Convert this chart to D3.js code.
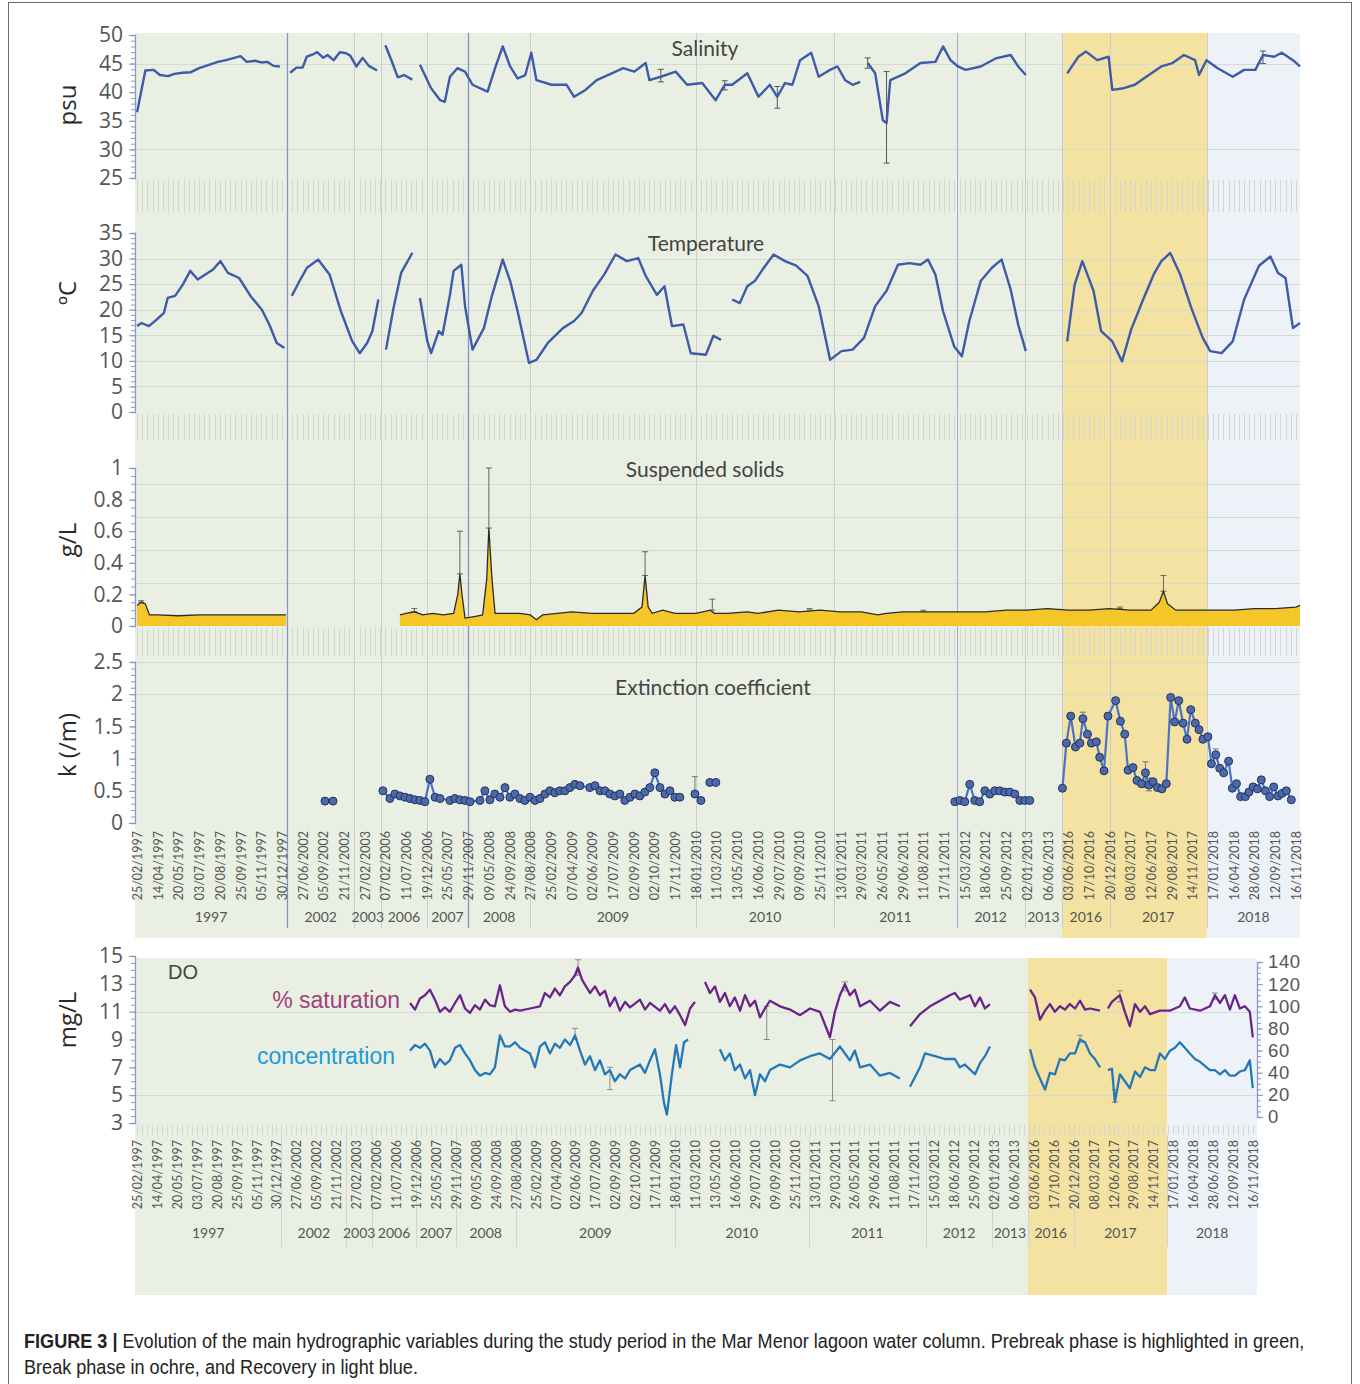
<!DOCTYPE html>
<html>
<head>
<meta charset="utf-8">
<script src="https://cdn.jsdelivr.net/npm/d3@7"></script>
<style>
  body { margin: 0; background: #fff; }
  svg { display: block; }
</style>
</head>
<body>
<svg id="fig" width="1360" height="1384"></svg>
<script>
// ---- Data ---------------------------------------------------------------
// Category axis: every labelled sampling date sits at an integer position.
// Series values are stored as [position, value]; null breaks the line.
var dateLabels = ["25/02/1997","14/04/1997","20/05/1997","03/07/1997","20/08/1997","25/09/1997","05/11/1997","30/12/1997",
  "27/06/2002","05/09/2002","21/11/2002","27/02/2003","07/02/2006","11/07/2006","19/12/2006","25/05/2007","29/11/2007",
  "09/05/2008","24/09/2008","27/08/2008","25/02/2009","07/04/2009","02/06/2009","17/07/2009","02/09/2009","02/10/2009",
  "17/11/2009","18/01/2010","11/03/2010","13/05/2010","16/06/2010","29/07/2010","09/09/2010","25/11/2010","13/01/2011",
  "29/03/2011","26/05/2011","29/06/2011","11/08/2011","17/11/2011","15/03/2012","18/06/2012","25/09/2012","02/01/2013",
  "06/06/2013","03/06/2016","17/10/2016","20/12/2016","08/03/2017","12/06/2017","29/08/2017","14/11/2017","17/01/2018",
  "16/04/2018","28/06/2018","12/09/2018","16/11/2018"];

var years = ["1997","2002","2003","2006","2007","2008","2009","2010","2011","2012","2013","2016","2017","2018"];
var yearBounds = [-0.1, 7.25, 10.5, 11.8, 14.0, 16.0, 19.0, 27.0, 33.7, 39.6, 42.9, 44.7, 47.0, 51.7, 56.2];

var phases = ["Prebreak", "Break", "Recovery"];
var phaseBounds = [-0.1, 44.7, 51.7, 56.2];

var salinity = [[0,36.5],[0.4,43.8],[0.8,43.9],[1.1,43],[1.5,42.8],[1.8,43.2],[2.2,43.4],[2.6,43.5],[3.0,44.2],[3.4,44.7],
  [3.9,45.3],[4.3,45.6],[4.7,46],[5.0,46.3],[5.3,45.3],[5.7,45.5],[6.0,45.2],[6.3,45.3],[6.6,44.6],[6.9,44.5],[7.15,null],
  [7.4,43.4],[7.7,44.3],[8.0,44.3],[8.2,46.2],[8.5,46.6],[8.7,47],[9.0,46],[9.2,46.5],[9.5,45.6],[9.8,47],[10.1,46.8],
  [10.3,46.4],[10.6,44.5],[10.9,46],[11.2,44.6],[11.6,43.8],[11.8,null],
  [12.0,48.2],[12.3,45.5],[12.6,42.6],[12.9,43],[13.3,42.2],[13.5,null],
  [13.67,44.8],[14.21,40.7],[14.65,38.6],[14.87,38.3],[15.12,42.7],[15.48,44.2],[15.85,43.6],[16.21,41.3],[16.94,40.1],
  [17.3,44.2],[17.67,48],[18.03,44.5],[18.39,42.4],[18.76,43],[19.05,46.9],[19.3,42.1],[20.03,41.3],[20.76,41.3],[21.12,39.2],
  [21.67,40.4],[22.21,42.1],[22.94,43.3],[23.49,44.2],[24.03,43.6],[24.58,45.1],[24.76,42.1],[25.31,42.7],[26.03,43.6],
  [26.58,41.3],[27.31,41.6],[27.96,38.6],[28.4,41.3],[28.76,41.3],[29.49,43.3],[30.03,39.2],[30.58,41.3],[30.94,39.2],
  [31.31,41.6],[31.67,41.3],[32.04,45.6],[32.58,46.9],[32.94,42.7],[33.49,43.9],[33.85,44.5],[34.22,42.1],[34.58,41.3],
  [34.95,41.8],[35.1,null],
  [35.31,45.1],[35.67,43.3],[36.04,35.1],[36.22,34.6],[36.4,42.1],[37.13,43.3],[37.86,45.1],[38.58,45.3],[38.95,48],
  [39.31,45.6],[39.67,44.5],[40.04,43.9],[40.77,44.5],[41.49,45.9],[42.22,46.5],[42.58,44.5],[42.95,43],[43.5,null],
  [44.95,43.3],[45.49,46.2],[45.86,47.1],[46.4,45.6],[46.95,46.2],[47.13,40.4],[47.68,40.7],[48.22,41.3],[48.77,42.7],
  [49.5,44.5],[50.04,45.1],[50.59,46.5],[51.13,45.6],[51.32,43],[51.68,45.6],[52.22,44.2],[52.95,42.7],[53.5,43.9],
  [54.04,43.9],[54.41,46.5],[54.95,46.2],[55.32,46.9],[55.86,45.6],[56.2,44.5]];
// [position, low, high]
var salinityErr = [[36.22,27.6,43.6],[30.94,37.2,41.0],[35.31,44.2,46.0],[25.31,41.8,44.0],[28.4,40.4,42.0],[54.41,45.0,47.2]];

var temperature = [[0,16.8],[0.21,17.4],[0.57,16.8],[0.93,18],[1.3,19.4],[1.48,22.3],[1.84,22.7],[2.21,24.9],[2.57,27.6],
  [2.93,25.9],[3.3,26.9],[3.66,27.8],[4.03,29.5],[4.39,27.2],[4.93,26.2],[5.48,22.7],[6.03,20],[6.39,17.1],[6.75,13.5],
  [7.12,12.5],[7.3,null],
  [7.48,22.7],[7.85,25.6],[8.21,28.2],[8.75,29.8],[9.3,26.9],[9.85,19.7],[10.39,13.9],[10.76,11.5],[11.12,13.5],[11.37,15.8],
  [11.66,22],[11.85,null],
  [12.03,12.2],[12.39,20.3],[12.76,27.2],[13.3,31.1],[13.5,null],
  [13.67,22.3],[14.03,13.8],[14.21,11.5],[14.58,15.8],[14.76,15.1],[15.12,22.9],[15.3,27.6],[15.67,28.8],[15.85,20.7],
  [16.21,12.2],[16.76,16.4],[17.12,22.3],[17.67,29.8],[18.03,25.6],[18.39,19.7],[18.94,9.6],[19.3,10.2],[19.85,13.5],
  [20.58,16.4],[21.12,17.8],[21.49,19.4],[22.03,23.7],[22.58,26.9],[23.12,30.8],[23.67,29.5],[24.22,30.1],[24.58,26.6],
  [25.12,22.9],[25.49,24.6],[25.85,16.8],[26.4,17.1],[26.76,11.5],[27.49,11.2],[27.85,14.9],[28.22,14.1],[28.5,null],
  [28.76,22],[29.13,21.3],[29.49,24.6],[29.85,25.6],[30.22,27.8],[30.76,30.8],[31.31,29.5],[31.85,28.6],[32.4,26.6],
  [32.94,20.7],[33.49,10.2],[34.04,11.9],[34.58,12.2],[35.13,14.5],[35.67,20.7],[36.22,23.7],[36.77,28.8],[37.31,29.1],
  [37.86,28.8],[38.22,29.8],[38.58,26.9],[38.95,19.7],[39.49,12.8],[39.86,10.9],[40.22,17.8],[40.77,25.6],[41.31,28.2],
  [41.78,29.8],[42.22,23.9],[42.58,17.1],[42.95,11.9],[43.2,null],
  [44.95,13.8],[45.31,24.9],[45.68,29.5],[46.22,23.7],[46.59,15.8],[47.13,13.8],[47.6,9.9],[48.04,16.1],[48.59,21.7],
  [49.13,26.9],[49.5,29.5],[49.93,31.1],[50.41,26.9],[50.95,20.3],[51.5,14.5],[51.86,11.9],[52.41,11.5],[52.95,13.8],
  [53.5,22],[54.22,28.6],[54.77,30.4],[55.14,27.2],[55.5,26.2],[55.86,16.4],[56.2,17.4]];

var solids = [[0,0.13],[0.2,0.15],[0.4,0.14],[0.6,0.07],[1,0.07],[2,0.065],[3,0.07],[4,0.07],[5,0.07],[6,0.07],[7.2,0.07],[7.25,null],
  [12.7,0.07],[13,0.08],[13.4,0.09],[13.8,0.07],[14.3,0.08],[14.8,0.07],[15.3,0.08],[15.5,0.2],[15.6,0.33],[15.7,0.2],
  [15.85,0.05],[16.3,0.06],[16.7,0.07],[16.9,0.3],[17.0,0.62],[17.15,0.3],[17.3,0.08],[17.8,0.08],[18.5,0.08],[19,0.07],
  [19.3,0.04],[19.6,0.07],[20.3,0.08],[21,0.09],[22,0.08],[23,0.08],[24,0.08],[24.4,0.12],[24.55,0.32],[24.7,0.12],
  [24.9,0.08],[25.4,0.1],[26,0.08],[27,0.08],[27.7,0.1],[27.9,0.08],[28.5,0.08],[29.5,0.09],[30,0.08],[31,0.1],[32,0.09],
  [33,0.1],[34,0.09],[35,0.09],[35.8,0.07],[36.2,0.08],[37,0.09],[38,0.09],[39,0.09],[40,0.09],[41,0.09],[42,0.1],
  [43,0.1],[44,0.11],[45,0.1],[46,0.1],[47,0.11],[48,0.1],[49,0.1],[49.4,0.15],[49.6,0.22],[49.8,0.14],[50.2,0.1],
  [51,0.1],[52,0.1],[53,0.1],[54,0.11],[55,0.11],[56,0.12],[56.2,0.13]];
var solidsErr = [[15.6,0.33,0.6],[17.0,0.62,1.0],[24.55,0.32,0.47],[27.8,0.1,0.17],[49.6,0.22,0.32],[0.2,0.15,0.16],
  [13.4,0.09,0.11],[32.5,0.1,0.11],[38,0.09,0.1],[47.5,0.11,0.12]];

var extinction = [[9.08,0.34],[9.47,0.34],[9.6,null],
  [11.88,0.5],[12.22,0.38],[12.46,0.45],[12.71,0.42],[12.95,0.4],[13.19,0.38],[13.43,0.36],[13.67,0.35],[13.91,0.33],
  [14.15,0.68],[14.4,0.4],[14.64,0.38],[15.12,0.35],[15.36,0.38],[15.6,0.36],[15.85,0.35],[16.09,0.33],[16.57,0.35],
  [16.81,0.5],[17.05,0.36],[17.29,0.45],[17.54,0.4],[17.78,0.55],[18.02,0.4],[18.26,0.45],[18.5,0.38],[18.74,0.35],
  [18.99,0.4],[19.23,0.35],[19.47,0.38],[19.71,0.45],[19.95,0.5],[20.19,0.47],[20.43,0.5],[20.68,0.5],[20.92,0.55],
  [21.16,0.6],[21.4,0.58],[21.88,0.55],[22.13,0.58],[22.37,0.5],[22.61,0.5],[22.85,0.45],[23.09,0.42],[23.33,0.45],
  [23.57,0.35],[23.82,0.4],[24.06,0.45],[24.3,0.42],[24.54,0.48],[24.78,0.55],[25.02,0.78],[25.27,0.55],[25.51,0.45],
  [25.75,0.5],[25.99,0.4],[26.23,0.4],[26.5,null],[26.96,0.45],[27.25,0.35],[27.4,null],[27.68,0.63],[27.97,0.63],[28.1,null],
  [39.52,0.33],[39.76,0.35],[40,0.33],[40.24,0.6],[40.48,0.35],[40.72,0.33],[40.97,0.5],[41.21,0.45],[41.45,0.5],
  [41.69,0.5],[41.93,0.48],[42.17,0.48],[42.42,0.45],[42.66,0.35],[42.9,0.35],[43.14,0.35],[43.3,null],
  [44.72,0.54],[44.91,1.24],[45.12,1.66],[45.35,1.18],[45.56,1.24],[45.71,1.62],[45.93,1.38],[46.12,1.24],[46.36,1.26],
  [46.52,1.02],[46.73,0.81],[46.92,1.66],[47.29,1.9],[47.52,1.58],[47.73,1.38],[47.89,0.82],[48.13,0.86],[48.32,0.66],
  [48.54,0.61],[48.73,0.78],[48.9,0.59],[49.1,0.64],[49.31,0.55],[49.53,0.53],[49.74,0.61],[49.95,1.95],[50.14,1.57],
  [50.34,1.9],[50.55,1.55],[50.74,1.3],[50.92,1.76],[51.14,1.55],[51.32,1.45],[51.51,1.3],[51.75,1.34],[51.92,0.92],
  [52.13,1.06],[52.32,0.85],[52.51,0.78],[52.75,0.96],[52.93,0.54],[53.13,0.61],[53.33,0.41],[53.56,0.41],[53.73,0.48],
  [53.93,0.56],[54.14,0.53],[54.33,0.67],[54.53,0.5],[54.73,0.41],[54.93,0.56],[55.14,0.42],[55.33,0.46],[55.54,0.5],
  [55.78,0.36]];
var extinctionErr = [[26.96,0.45,0.72],[45.71,1.62,1.72],[48.73,0.55,0.95],[48.9,0.5,0.7],[52.13,1.0,1.15]];

// DO: % saturation (right axis) and concentration in mg/L (left axis)
var doSaturation = [[13.7,103],[13.95,97],[14.2,107],[14.45,110],[14.7,115],[14.95,106],[15.2,95],[15.45,99],[15.7,95],
  [15.96,103],[16.21,110],[16.46,98],[16.71,94],[16.96,101],[17.21,97],[17.46,106],[17.71,101],[17.96,100],[18.21,119],
  [18.46,100],[18.72,95],[18.97,97],[19.22,96],[19.72,98],[20.22,100],[20.47,112],[20.72,108],[20.97,116],[21.22,110],
  [21.47,118],[21.73,122],[21.98,128],[22.13,135],[22.33,124],[22.73,112],[22.98,118],[23.23,110],[23.48,114],[23.73,100],
  [23.98,108],[24.23,96],[24.49,104],[24.74,99],[25.24,106],[25.49,97],[25.74,103],[26.24,96],[26.49,102],[26.74,94],
  [26.99,100],[27.25,92],[27.5,83],[27.75,98],[28.0,104],[28.25,null],
  [28.5,122],[28.75,112],[29.0,118],[29.25,104],[29.5,112],[29.75,100],[30.0,108],[30.26,96],[30.51,110],[30.76,100],
  [31.01,105],[31.26,90],[31.51,98],[31.76,105],[32.26,100],[32.77,97],[33.27,92],[33.77,98],[34.27,95],[34.77,72],
  [35.02,95],[35.27,110],[35.52,120],[35.77,110],[36.02,115],[36.28,100],[36.78,105],[37.28,96],[37.78,104],[38.28,100],
  [38.5,null],
  [38.79,82],[39.29,93],[39.79,100],[40.29,105],[40.79,110],[41.04,112],[41.29,106],[41.8,110],[42.05,100],[42.3,108],
  [42.55,98],[42.8,102],[43.2,null],
  [44.81,115],[45.06,108],[45.31,88],[45.56,96],[45.81,102],[46.06,95],[46.31,100],[46.56,97],[46.81,102],[47.07,98],
  [47.32,105],[47.57,97],[47.82,98],[48.32,96],[48.5,null],
  [48.72,98],[48.92,104],[49.32,110],[49.57,95],[49.82,82],[50.08,102],[50.33,95],[50.58,100],[50.83,93],[51.33,96],
  [51.83,96],[52.33,100],[52.58,108],[52.83,98],[53.34,96],[53.84,100],[54.09,110],[54.34,103],[54.59,110],[54.84,97],
  [55.09,110],[55.34,98],[55.59,100],[55.84,95],[55.99,72]];
var doSaturationErr = [[22.13,128,142],[31.6,70,100],[35.52,114,122],[49.32,104,114],[54.09,106,112]];

var doConcentration = [[13.7,8.2],[13.95,8.6],[14.2,8.4],[14.45,8.7],[14.7,8.2],[14.95,7.0],[15.2,7.6],[15.45,7.2],[15.7,7.5],
  [15.96,8.4],[16.21,8.6],[16.46,8.0],[16.71,7.5],[16.96,6.8],[17.21,6.4],[17.46,6.6],[17.71,6.5],[17.96,7.0],[18.21,9.3],
  [18.46,8.5],[18.72,8.5],[18.97,8.8],[19.22,8.4],[19.72,8.0],[19.97,7.0],[20.22,8.5],[20.47,8.8],[20.72,8.0],[20.97,8.7],
  [21.22,8.4],[21.47,9.0],[21.73,8.6],[21.98,9.3],[22.23,8.2],[22.48,7.2],[22.73,7.8],[22.98,6.8],[23.23,7.5],[23.48,6.5],
  [23.73,6.8],[23.98,6.0],[24.23,6.5],[24.49,6.2],[24.74,6.8],[25.24,7.2],[25.49,6.6],[25.74,7.5],[25.99,8.3],[26.24,6.5],
  [26.44,4.5],[26.59,3.6],[26.84,6.5],[27.05,8.6],[27.25,7.0],[27.45,8.8],[27.65,9.0],[28.0,null],
  [29.25,8.3],[29.5,7.5],[29.75,8.0],[30.0,6.8],[30.26,7.2],[30.51,6.2],[30.76,6.8],[31.01,5.0],[31.26,6.5],[31.51,6.0],
  [31.76,6.8],[32.26,7.2],[32.77,7.0],[33.27,7.5],[33.77,7.8],[34.27,8.0],[34.77,7.6],[35.27,8.5],[35.77,7.5],[36.02,8.2],
  [36.28,7.0],[36.78,7.2],[37.28,6.4],[37.78,6.6],[38.28,6.2],[38.5,null],
  [38.79,5.6],[39.29,7.0],[39.54,8.0],[40.04,7.8],[40.54,7.6],[41.04,7.6],[41.29,7.0],[41.54,7.2],[42.05,6.5],[42.3,7.3],
  [42.55,7.8],[42.8,8.5],[43.2,null],
  [44.81,8.3],[45.06,7.0],[45.31,6.2],[45.56,5.4],[45.81,6.6],[46.06,6.5],[46.31,7.6],[46.56,7.5],[46.81,8.0],[47.07,8.0],
  [47.32,9.0],[47.57,8.8],[47.82,8.0],[48.07,7.6],[48.32,7.0],[48.5,null],
  [48.72,6.8],[48.92,6.9],[49.07,4.5],[49.32,6.5],[49.57,6.0],[49.82,5.5],[50.08,6.7],[50.33,6.3],[50.58,7.0],[50.83,6.8],
  [51.08,6.8],[51.33,8.0],[51.58,7.6],[51.83,8.2],[52.08,8.4],[52.33,8.8],[52.58,8.4],[52.83,8.0],[53.09,7.6],[53.34,7.4],
  [53.84,6.8],[54.09,6.8],[54.34,6.5],[54.59,6.8],[54.84,6.4],[55.09,6.4],[55.34,6.7],[55.59,6.8],[55.84,7.5],[55.99,5.5]];
var doConcentrationErr = [[23.73,5.4,7.0],[34.9,4.6,9.0],[21.98,9.0,9.8],[47.32,8.8,9.3],[49.07,4.5,5.4]];

// ---- Drawing ------------------------------------------------------------
var svg = d3.select("#fig");
var phaseFill = { Prebreak: "#e9f0e3", Break: "#f3e2a2", Recovery: "#edf2f8" };
var tickFont = "'Open Sans', 'DejaVu Sans', sans-serif";
var calibriLike = "Lato, 'Open Sans', sans-serif";
var sans = "'Liberation Sans', Arial, sans-serif";

// position scales for the two blocks of panels
var x = d3.scaleLinear().domain([-0.1, 56.2]).range([135, 1300]);
var xDo = d3.scaleLinear().domain([-0.1, 56.2]).range([135, 1257]);

// outer frame of the figure
svg.append("rect").attr("x", 8.5).attr("y", 2.5).attr("width", 1343).attr("height", 1400)
  .attr("fill", "none").attr("stroke", "#6b6b6b").attr("stroke-width", 1);

function phaseBands(g, xs, y0, y1) {
  g.selectAll(null).data(phases).enter().append("rect")
    .attr("x", function(p, i) { return xs(phaseBounds[i]); })
    .attr("width", function(p, i) { return xs(phaseBounds[i + 1]) - xs(phaseBounds[i]); })
    .attr("y", y0).attr("height", y1 - y0)
    .attr("fill", function(p) { return phaseFill[p]; });
}

var upper = svg.append("g");
var lower = svg.append("g");
phaseBands(upper, x, 33, 938);
phaseBands(lower, xDo, 958, 1295);

// the dense category tick marks below each panel
function tickBand(g, xs, y0, y1) {
  g.append("g").selectAll("line").data(d3.range(0, 56.01, 0.25)).enter().append("line")
    .attr("x1", function(d) { return Math.round(xs(d)) + 0.5; })
    .attr("x2", function(d) { return Math.round(xs(d)) + 0.5; })
    .attr("y1", y0).attr("y2", y1)
    .attr("stroke", "#d2d7cf").attr("stroke-width", 1);
}
tickBand(upper, x, 180, 212);
tickBand(upper, x, 414, 440);
tickBand(upper, x, 628, 656);
tickBand(lower, xDo, 1125, 1135);

function hGrid(g, y, values, x0, x1) {
  g.append("g").selectAll("line").data(values).enter().append("line")
    .attr("x1", x0).attr("x2", x1)
    .attr("y1", function(d) { return Math.round(y(d)) + 0.5; })
    .attr("y2", function(d) { return Math.round(y(d)) + 0.5; })
    .attr("stroke", "#d5dad2").attr("stroke-width", 1);
}

// panel scales
var ySal = d3.scaleLinear().domain([25, 50]).range([178, 35]);
var yTmp = d3.scaleLinear().domain([0, 35]).range([412, 233]);
var ySS = d3.scaleLinear().domain([0, 1]).range([626, 468]);
var yExt = d3.scaleLinear().domain([0, 2.5]).range([823, 662]);
var yDoL = d3.scaleLinear().domain([3, 15]).range([1123, 956]);
var yDoR = d3.scaleLinear().domain([0, 140]).range([1117, 962]);

hGrid(upper, ySal, [30, 45], 135, 1300);
hGrid(upper, yTmp, [5, 10, 15, 20, 25, 30], 135, 1300);
hGrid(upper, ySS, [0.27, 0.48, 0.69, 0.9], 135, 1300);
hGrid(upper, yExt, [2, 2.5], 135, 1300);
hGrid(lower, yDoL, [5, 11], 135, 1257);

// vertical separators between years (plot area + label area)
var inner = yearBounds.slice(1, -1);
upper.append("g").selectAll("line").data(inner).enter().append("line")
  .attr("x1", function(d) { return Math.round(x(d)) + 0.5; })
  .attr("x2", function(d) { return Math.round(x(d)) + 0.5; })
  .attr("y1", 33).attr("y2", 928)
  .attr("stroke", function(d) { return (d === 7.25 || d === 16.0) ? "#8593c4" : (d === 39.6 ? "#a3aecf" : "#c9cdd0"); })
  .attr("stroke-width", function(d) { return (d === 7.25 || d === 16.0) ? 1.3 : 1; });
lower.append("g").selectAll("line").data(inner).enter().append("line")
  .attr("x1", function(d) { return Math.round(xDo(d)) + 0.5; })
  .attr("x2", function(d) { return Math.round(xDo(d)) + 0.5; })
  .attr("y1", 1135).attr("y2", 1247)
  .attr("stroke", "#d0d4d6").attr("stroke-width", 1);

// ---- series ----
function lineOf(xs, y) {
  return d3.line()
    .defined(function(d) { return d[1] !== null; })
    .x(function(d) { return xs(d[0]); })
    .y(function(d) { return y(d[1]); });
}

function errorBars(g, xs, y, rows, color) {
  var eg = g.append("g").attr("stroke", color).attr("stroke-width", 1);
  rows.forEach(function(r) {
    var cx = xs(r[0]);
    eg.append("line").attr("x1", cx).attr("x2", cx).attr("y1", y(r[1])).attr("y2", y(r[2]));
    eg.append("line").attr("x1", cx - 3).attr("x2", cx + 3).attr("y1", y(r[2])).attr("y2", y(r[2]));
    eg.append("line").attr("x1", cx - 3).attr("x2", cx + 3).attr("y1", y(r[1])).attr("y2", y(r[1]));
  });
}

var blueLine = "#3d5ba8";

errorBars(upper, x, ySal, salinityErr, "#555");
upper.append("path").datum(salinity).attr("d", lineOf(x, ySal))
  .attr("fill", "none").attr("stroke", blueLine).attr("stroke-width", 2.4).attr("stroke-linejoin", "round");

upper.append("path").datum(temperature).attr("d", lineOf(x, yTmp))
  .attr("fill", "none").attr("stroke", blueLine).attr("stroke-width", 2.4).attr("stroke-linejoin", "round");

var ssArea = d3.area()
  .defined(function(d) { return d[1] !== null; })
  .x(function(d) { return x(d[0]); })
  .y0(ySS(0))
  .y1(function(d) { return ySS(d[1]); });
errorBars(upper, x, ySS, solidsErr, "#666");
upper.append("path").datum(solids).attr("d", ssArea).attr("fill", "#f5c628");
upper.append("path").datum(solids).attr("d", lineOf(x, ySS))
  .attr("fill", "none").attr("stroke", "#2b2b2b").attr("stroke-width", 1.3);

errorBars(upper, x, yExt, extinctionErr, "#777");
upper.append("path").datum(extinction).attr("d", lineOf(x, yExt))
  .attr("fill", "none").attr("stroke", "#4a72c6").attr("stroke-width", 2.2);
upper.append("g").selectAll("circle")
  .data(extinction.filter(function(d) { return d[1] !== null; }))
  .enter().append("circle")
  .attr("cx", function(d) { return x(d[0]); })
  .attr("cy", function(d) { return yExt(d[1]); })
  .attr("r", 4)
  .attr("fill", "#4d69ab").attr("stroke", "#22335f").attr("stroke-width", 1);

errorBars(lower, xDo, yDoR, doSaturationErr, "#8a8a8a");
errorBars(lower, xDo, yDoL, doConcentrationErr, "#8a8a8a");
lower.append("path").datum(doSaturation).attr("d", lineOf(xDo, yDoR))
  .attr("fill", "none").attr("stroke", "#6a2489").attr("stroke-width", 2.3).attr("stroke-linejoin", "round");
lower.append("path").datum(doConcentration).attr("d", lineOf(xDo, yDoL))
  .attr("fill", "none").attr("stroke", "#2478b8").attr("stroke-width", 2.3).attr("stroke-linejoin", "round");

// ---- value axes ----
function valueAxis(g, y, ticks, minorStep, xPos, side, font, fontPx, fmt) {
  var mk = side === "left" ? d3.axisLeft : d3.axisRight;
  var dom = y.domain();
  var minor = g.append("g").attr("transform", "translate(" + xPos + ",0)")
    .call(mk(y).tickValues(d3.range(dom[0], dom[1] + minorStep / 2, minorStep)).tickSize(4).tickFormat(""));
  minor.selectAll("text").remove();
  minor.selectAll("line").attr("stroke", "#8b98c6");
  minor.select(".domain").attr("stroke", "#8b98c6").attr("stroke-width", 1.3);
  var major = g.append("g").attr("transform", "translate(" + xPos + ",0)")
    .call(mk(y).tickValues(ticks).tickSize(6).tickPadding(6).tickFormat(fmt || d3.format("")));
  major.select(".domain").remove();
  major.selectAll("line").attr("stroke", "#8b98c6");
  major.selectAll("text").attr("fill", "#555").style("font-family", font).style("font-size", fontPx + "px");
  return major;
}

valueAxis(upper, ySal, [25, 30, 35, 40, 45, 50], 1, 135, "left", tickFont, 21);
valueAxis(upper, yTmp, [0, 5, 10, 15, 20, 25, 30, 35], 1, 135, "left", tickFont, 21);
valueAxis(upper, ySS, [0, 0.2, 0.4, 0.6, 0.8, 1], 0.05, 135, "left", tickFont, 21, function(d) { return d === 0 || d === 1 ? d : d3.format(".1f")(d); });
valueAxis(upper, yExt, [0, 0.5, 1, 1.5, 2, 2.5], 0.1, 135, "left", tickFont, 21, function(d) { return d; });
valueAxis(lower, yDoL, [3, 5, 7, 9, 11, 13, 15], 0.5, 135, "left", tickFont, 21);
// the right-hand ticks sit only 22px apart, so use a compact face here
var rightAx = valueAxis(lower, yDoR, [0, 20, 40, 60, 80, 100, 120, 140], 5, 1257, "right", sans, 18.5);
rightAx.selectAll("text").attr("x", 11).style("letter-spacing", "0.6px");

// ---- category axes (dates + years) ----
function dateAxis(g, xs, yTop, yearY) {
  var ax = g.append("g").attr("transform", "translate(0," + yTop + ")")
    .call(d3.axisBottom(xs).tickValues(d3.range(dateLabels.length)).tickSize(0)
      .tickFormat(function(i) { return dateLabels[i]; }));
  ax.select(".domain").remove();
  ax.selectAll("text")
    .attr("transform", "rotate(-90)")
    .attr("x", -3).attr("y", 0).attr("dy", "0.36em")
    .style("text-anchor", "end")
    .attr("fill", "#555")
    .style("font-family", calibriLike).style("font-size", "12.5px");
  g.append("g").selectAll("text").data(years).enter().append("text")
    .attr("x", function(d, i) { return xs((yearBounds[i] + yearBounds[i + 1]) / 2); })
    .attr("y", yearY)
    .attr("text-anchor", "middle")
    .attr("fill", "#555")
    .style("font-family", calibriLike).style("font-size", "14px")
    .text(function(d) { return d; });
}
dateAxis(upper, x, 828, 922);
dateAxis(lower, xDo, 1137, 1238);

// ---- titles and labels ----
function axisTitle(txt, cx, cy) {
  svg.append("text").attr("transform", "translate(" + cx + "," + cy + ") rotate(-90)")
    .attr("text-anchor", "middle").attr("fill", "#2a2a2a")
    .style("font-family", tickFont).style("font-size", "24px").text(txt);
}
axisTitle("psu", 76, 105);
axisTitle("ºC", 76, 293);
axisTitle("g/L", 76, 540);
axisTitle("k (/m)", 76, 745);
axisTitle("mg/L", 76, 1020);

function panelTitle(txt, cx, by) {
  svg.append("text").attr("x", cx).attr("y", by).attr("text-anchor", "middle").attr("fill", "#444")
    .style("font-family", calibriLike).style("font-size", "21px").text(txt);
}
panelTitle("Salinity", 705, 56);
panelTitle("Temperature", 706, 251);
panelTitle("Suspended solids", 705, 477);
panelTitle("Extinction coefficient", 713, 695);

svg.append("text").attr("x", 168).attr("y", 979).attr("fill", "#444")
  .style("font-family", sans).style("font-size", "20px").text("DO");
svg.append("text").attr("x", 400).attr("y", 1008).attr("text-anchor", "end").attr("fill", "#a0417f")
  .style("font-family", sans).style("font-size", "23px").text("% saturation");
svg.append("text").attr("x", 395).attr("y", 1064).attr("text-anchor", "end").attr("fill", "#1f9ad6")
  .style("font-family", sans).style("font-size", "23px").text("concentration");

// ---- caption (condensed face: squeeze a regular sans horizontally) ----
function captionLine(yBase, targetWidth, parts) {
  var t = svg.append("text").attr("fill", "#222")
    .style("font-family", sans).style("font-size", "19.5px");
  parts.forEach(function(p) {
    t.append("tspan").style("font-weight", p.bold ? "bold" : "normal").text(p.text);
  });
  var w = t.node().getComputedTextLength();
  var k = targetWidth ? targetWidth / w : 0.86;
  t.attr("transform", "translate(24," + yBase + ") scale(" + k + ",1)");
  return k;
}
var k1 = captionLine(1348, 1281, [
  { text: "FIGURE 3 | ", bold: true },
  { text: "Evolution of the main hydrographic variables during the study period in the Mar Menor lagoon water column. Prebreak phase is highlighted in green," }
]);
svg.append("text").attr("fill", "#222")
  .style("font-family", sans).style("font-size", "19.5px")
  .attr("transform", "translate(24,1374) scale(" + k1 + ",1)")
  .text("Break phase in ochre, and Recovery in light blue.");
</script>
</body>
</html>
